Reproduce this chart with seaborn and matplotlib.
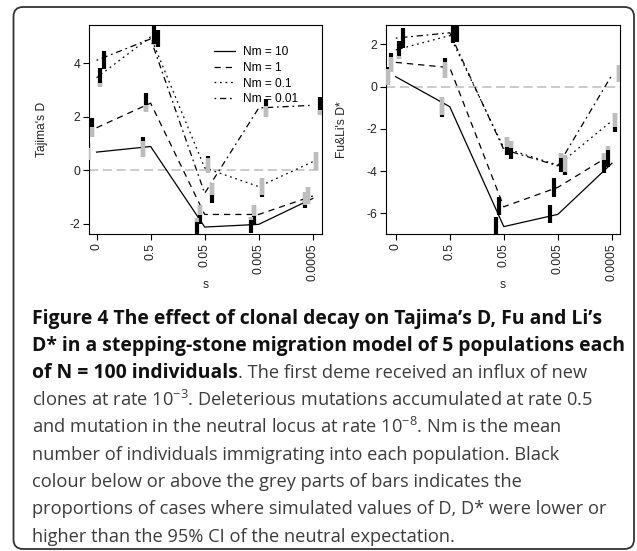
import numpy as np
import pandas as pd
import matplotlib
matplotlib.use('Agg')
import matplotlib.pyplot as plt
import seaborn as sns
from matplotlib.patches import FancyBboxPatch

# ---------------- data ----------------
s_labels = ['0', '0.5', '0.05', '0.005', '0.0005']
s_pos = [1, 2, 3, 4, 5]
nm_labels = ['Nm = 10', 'Nm = 1', 'Nm = 0.1', 'Nm = 0.01']
bar_offsets = [-0.15, -0.08, 0.06, 0.13]

# Tajima's D : line values (Nm = 10, 1, 0.1, 0.01)
taj_mean = [[0.67, 0.88, -2.13, -2.03, -1.06],
            [1.58, 2.50, -1.66, -1.66, -0.97],
            [3.45, 4.98, 0.08, -0.62, 0.31],
            [4.10, 4.90, -0.87, 2.32, 2.42]]
taj_lo = [[0.37, 0.50, -2.45, -2.37, -1.43],
          [1.25, 2.18, -2.00, -2.02, -1.27],
          [3.11, 4.67, -0.12, -1.00, 0.00],
          [3.76, 4.61, -1.22, 2.00, 2.06]]
taj_grey_lo = [[0.37, 0.50, -1.93, -1.85, -1.31],
               [1.25, 2.18, -1.68, -1.72, -1.27],
               [3.11, 4.67, -0.12, -0.95, 0.00],
               [3.76, 4.61, -0.93, 2.00, 2.06]]
taj_grey_hi = [[0.82, 1.10, -1.79, -1.75, -0.81],
               [1.62, 2.43, -1.31, -1.31, -0.65],
               [3.24, 4.70, 0.45, -0.31, 0.68],
               [3.76, 4.61, -0.50, 2.39, 2.24]]
taj_hi = [[1.00, 1.25, -1.79, -1.75, -0.81],
          [1.93, 2.89, -1.31, -1.31, -0.65],
          [3.82, 5.38, 0.52, -0.31, 0.68],
          [4.46, 5.23, -0.50, 2.64, 2.74]]

# Fu & Li's D*
fu_mean = [[0.47, -0.95, -6.63, -6.05, -3.63],
           [1.15, 0.90, -5.69, -4.77, -3.20],
           [1.74, 2.42, -2.90, -3.72, -1.62],
           [2.30, 2.55, -2.98, -3.75, 0.55]]
fu_lo = [[0.08, -1.42, -7.00, -6.47, -4.10],
         [0.71, 0.40, -6.08, -5.24, -3.79],
         [1.30, 2.06, -3.24, -4.03, -2.13],
         [1.82, 2.13, -3.44, -4.18, 0.24]]
fu_grey_lo = [[0.08, -1.34, -6.16, -5.61, -3.48],
              [0.71, 0.40, -5.21, -4.34, -3.00],
              [1.30, 2.06, -2.84, -3.39, -1.90],
              [1.82, 2.13, -2.92, -4.03, 0.24]]
fu_grey_hi = [[0.85, -0.50, -6.16, -5.61, -3.15],
              [1.42, 1.18, -5.21, -4.34, -2.81],
              [1.45, 2.06, -2.37, -3.16, -1.26],
              [1.82, 2.13, -2.56, -3.24, 1.03]]
fu_hi = [[0.95, -0.50, -6.16, -5.61, -3.15],
         [1.58, 1.35, -5.21, -4.34, -2.81],
         [2.18, 2.88, -2.37, -3.16, -1.26],
         [2.77, 2.88, -2.56, -3.24, 1.03]]

caption_bold_1 = "Figure 4 The effect of clonal decay on Tajima\u2019s D, Fu and Li\u2019s"
caption_bold_2 = "D* in a stepping-stone migration model of 5 populations each"
caption_bold_3 = "of N = 100 individuals"
caption_norm_3 = ". The first deme received an influx of new"
caption_norm = ["clones at rate 10$^{-3}$. Deleterious mutations accumulated at rate 0.5",
                "and mutation in the neutral locus at rate 10$^{-8}$. Nm is the mean",
                "number of individuals immigrating into each population. Black",
                "colour below or above the grey parts of bars indicates the",
                "proportions of cases where simulated values of D, D* were lower or",
                "higher than the 95% CI of the neutral expectation."]

# ---------------- style ----------------
plt.rcParams['font.family'] = ['Liberation Sans', 'DejaVu Sans']
plt.rcParams['mathtext.default'] = 'regular'
W, H = 637, 551
fig = plt.figure(figsize=(W / 100, H / 100), dpi=100)

nm_dashes = {'Nm = 10': '', 'Nm = 1': (5, 4), 'Nm = 0.1': (1.4, 3), 'Nm = 0.01': (1.4, 3, 5, 3)}


def px_axes(x0, x1, y0, y1):
    return fig.add_axes([x0 / W, 1 - y1 / H, (x1 - x0) / W, (y1 - y0) / H])


def draw_panel(ax, mean, lo, glo, ghi, hi, ylabel, xlim, ylim, yticks, legend, ylab_x):
    ax.axhline(0, color='#bdbdbd', lw=1.1, dashes=(6, 3), zorder=1)
    rows = []
    for i, nm in enumerate(nm_labels):
        for p, v in zip(s_pos, mean[i]):
            rows.append({'s': p, 'D': v, 'Nm': nm})
    df = pd.DataFrame(rows)
    sns.lineplot(data=df, x='s', y='D', style='Nm', style_order=nm_labels,
                 dashes=nm_dashes, color='black', lw=0.9, errorbar=None,
                 legend=legend, ax=ax, zorder=3)
    for i in range(len(nm_labels)):
        xs = [p + bar_offsets[i] for p in s_pos]
        ax.vlines(xs, lo[i], hi[i], color='black', lw=3.0, zorder=4)
        ax.vlines(xs, glo[i], ghi[i], color='#bdbdbd', lw=3.0, zorder=5)
    ax.set_xlim(*xlim)
    ax.set_ylim(*ylim)
    ax.set_xticks(s_pos, s_labels, rotation=90)
    ax.set_yticks(yticks, [str(t) for t in yticks])
    ax.set_xlabel('s', fontsize=8.7, color='#222')
    ax.set_ylabel(ylabel, fontsize=8.7, color='#222')
    ax.xaxis.set_label_coords(0.5, -0.215)
    ax.yaxis.set_label_coords(ylab_x, 0.5)
    ax.tick_params(direction='out', length=4, width=0.8, labelsize=8.7,
                   labelcolor='#222', pad=2.5)
    for sp in ax.spines.values():
        sp.set_linewidth(0.8)
        sp.set_color('black')
    if legend:
        leg = ax.get_legend()
        handles = list(leg.legend_handles)
        labels = [t.get_text() for t in leg.get_texts()]
        leg.remove()
        for h in handles:
            h.set_color('black')
            h.set_linewidth(0.9)
        ax.legend(handles, labels, loc='upper left', bbox_to_anchor=(0.535, 0.9),
                  frameon=False, fontsize=8.6, handlelength=1.75, handletextpad=0.7,
                  labelspacing=0.32, borderpad=0, borderaxespad=0)


ax1 = px_axes(89, 322, 25, 234)
draw_panel(ax1, taj_mean, taj_lo, taj_grey_lo, taj_grey_hi, taj_hi, "Tajima's D",
           (0.86, 5.17), (-2.39, 5.42), [-2, 0, 2, 4], True, -0.176)
ax2 = px_axes(386, 620, 25, 234)
draw_panel(ax2, fu_mean, fu_lo, fu_grey_lo, fu_grey_hi, fu_hi, "Fu&Li's D*",
           (0.82, 5.15), (-6.98, 2.92), [-6, -4, -2, 0, 2], False, -0.162)

# ---------------- caption ----------------
renderer = fig.canvas.get_renderer()
x_left = 31.7
base0 = 324.0
step = 27.2


def fig_y(py):
    return 1 - py / H


def width_px(t):
    return t.get_window_extent(renderer).width


tb1 = fig.text(x_left / W, fig_y(base0), caption_bold_1, fontfamily='Open Sans',
               fontweight='bold', fontsize=12, color='#111', va='baseline')
tb2 = fig.text(x_left / W, fig_y(base0 + step), caption_bold_2, fontfamily='Open Sans',
               fontweight='bold', fontsize=12, color='#111', va='baseline')
bsize = 12 * 592 / max(width_px(tb1), width_px(tb2))
tb1.set_fontsize(bsize)
tb2.set_fontsize(bsize)

norm_texts = []
for k, line in enumerate(caption_norm):
    t = fig.text(x_left / W, fig_y(base0 + (3 + k) * step), line, fontfamily='Open Sans',
                 fontsize=12, color='#3c3c3c', va='baseline')
    norm_texts.append(t)
r8 = 580 / width_px(norm_texts[4])
r4 = 553 / width_px(norm_texts[0])
nsize = 12 * np.sqrt(r8 * r4)
for t in norm_texts:
    t.set_fontsize(nsize)

t3 = fig.text(x_left / W, fig_y(base0 + 2 * step), caption_bold_3, fontfamily='Open Sans',
              fontweight='bold', fontsize=bsize, color='#111', va='baseline')
x3 = x_left + width_px(t3)
fig.text(x3 / W, fig_y(base0 + 2 * step), caption_norm_3, fontfamily='Open Sans',
         fontsize=nsize, color='#3c3c3c', va='baseline')

# ---------------- border ----------------
border = FancyBboxPatch((13.5 / W, 1 - 549 / H), (634 - 13.5) / W, (549 - 7) / H,
                        boxstyle='round,pad=0,rounding_size=0.015',
                        transform=fig.transFigure, fill=False, ec='#333333', lw=1.3,
                        mutation_aspect=W / H)
fig.patches.append(border)

fig.savefig('out.png', dpi=100)
